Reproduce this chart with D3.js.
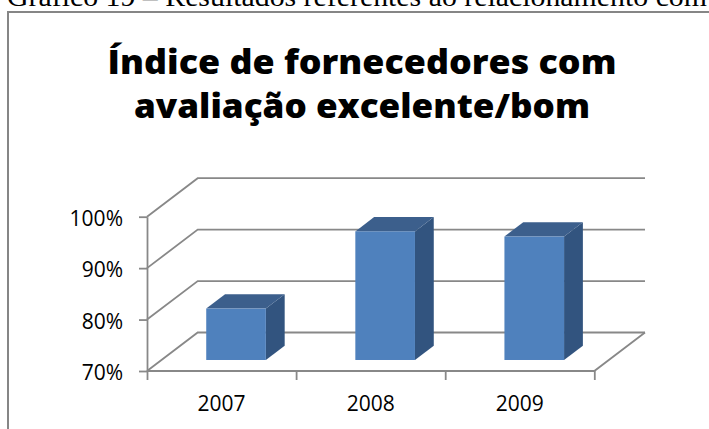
<!DOCTYPE html>
<html>
<head>
<meta charset="utf-8">
<script src="https://cdn.jsdelivr.net/npm/d3@7"></script>
<style>
  body { margin: 0; background: #fff; }
  svg { display: block; }
</style>
</head>
<body>
<svg width="709" height="429"></svg>
<script>
(function () {
  "use strict";
  const years = ["2007", "2008", "2009"];
  const values = [0.80, 0.95, 0.94];
  const yTicks = [0.7, 0.8, 0.9, 1.0];
  const caption = "Gráfico 19 – Resultados referentes ao relacionamento com";
  const titleLines = ["Índice de fornecedores com", "avaliação excelente/bom"];

  const svg = d3.select("svg");
  const gridColor = "#888888";

  // oblique depth of the 3D box
  const depthX = 50.7;
  const depthY = -38.5;
  const zFront = 0.286;
  const zBack = 0.657;

  const xScale = d3
    .scaleBand()
    .domain(years)
    .range([147, 594.3])
    .paddingInner(0.6)
    .paddingOuter(0.3);

  const yScale = d3.scaleLinear().domain([0.7, 1.0]).range([371, 216.7]);

  const [x0, x1] = xScale.range();

  // caption cut at the top of the page (as in the source)
  svg
    .append("text")
    .attr("x", 7)
    .attr("y", 6)
    .attr("font-family", "Liberation Serif")
    .attr("font-size", 28)
    .attr("textLength", 700)
    .attr("lengthAdjust", "spacingAndGlyphs")
    .attr("fill", "#000")
    .text(caption);

  // chart frame
  svg
    .append("path")
    .attr("d", "M8,440 L8,12 L720,12")
    .attr("fill", "none")
    .attr("stroke", "#868686")
    .attr("stroke-width", 2);

  const titleLens = [509, 456];
  svg
    .selectAll(".title")
    .data(titleLines)
    .join("text")
    .attr("class", "title")
    .attr("x", 362)
    .attr("y", (d, i) => 74.3 + i * 43.4)
    .attr("text-anchor", "middle")
    .attr("font-family", "Open Sans")
    .attr("font-weight", 800)
    .attr("font-size", 33)
    .attr("textLength", (d, i) => titleLens[i])
    .attr("lengthAdjust", "spacingAndGlyphs")
    .text((d) => d);

  const g = svg.append("g");

  // back wall + side wall gridlines
  g.selectAll(".grid")
    .data(yTicks)
    .join("path")
    .attr("class", "grid")
    .attr("fill", "none")
    .attr("stroke", gridColor)
    .attr("stroke-width", 1.8)
    .attr("d", (t) => {
      const y = yScale(t);
      return `M${x0},${y} L${x0 + depthX},${y + depthY} L${x1 + depthX},${y + depthY}`;
    });

  // floor front edge
  const yb = yScale(0.7);
  g.append("path")
    .attr("fill", "none")
    .attr("stroke", gridColor)
    .attr("stroke-width", 1.8)
    .attr("d", `M${x0},${yb} L${x1},${yb} L${x1 + depthX},${yb + depthY}`);

  // y axis at the front
  const yAxis = d3
    .axisLeft(yScale)
    .tickValues(yTicks)
    .tickFormat(d3.format(".0%"))
    .tickSize(8)
    .tickSizeOuter(0)
    .tickPadding(16);
  const yAxisG = g.append("g").attr("transform", `translate(${x0},0)`).call(yAxis);
  yAxisG.selectAll("path, line").attr("stroke", gridColor).attr("stroke-width", 1.8);
  yAxisG
    .selectAll("text")
    .attr("font-family", "Open Sans")
    .attr("font-size", 21)
    .attr("fill", "#000")
    .attr("dy", "0.42em");

  // x axis ticks at category boundaries
  const bounds = d3.scalePoint().domain(d3.range(years.length + 1)).range([x0, x1]);
  const xAxis = d3.axisBottom(bounds).tickSize(9).tickSizeOuter(0).tickFormat("");
  const xAxisG = g.append("g").attr("transform", `translate(0,${yb})`).call(xAxis);
  xAxisG.select(".domain").remove();
  xAxisG.selectAll("line").attr("stroke", gridColor).attr("stroke-width", 1.8);

  g.selectAll(".xlabel")
    .data(years)
    .join("text")
    .attr("class", "xlabel")
    .attr("x", (d) => xScale(d) + xScale.bandwidth() / 2)
    .attr("y", 410.5)
    .attr("text-anchor", "middle")
    .attr("font-family", "Open Sans")
    .attr("font-size", 21)
    .attr("fill", "#000")
    .text((d) => d);

  // bars
  const bw = xScale.bandwidth();
  const ddx = (zBack - zFront) * depthX;
  const ddy = (zBack - zFront) * depthY;
  const bars = g
    .selectAll(".bar")
    .data(years.map((y, i) => ({ year: y, value: values[i] })))
    .join("g")
    .attr("class", "bar");

  const face = (d) => {
    const left = xScale(d.year) + zFront * depthX;
    const right = left + bw;
    const top = yScale(d.value) + zFront * depthY;
    const bottom = yScale(0.7) + zFront * depthY;
    return { left, right, top, bottom };
  };

  bars
    .append("polygon")
    .attr("fill", "#32547f")
    .attr("points", (d) => {
      const f = face(d);
      return [
        [f.right, f.top],
        [f.right + ddx, f.top + ddy],
        [f.right + ddx, f.bottom + ddy],
        [f.right, f.bottom]
      ].join(" ");
    });

  bars
    .append("polygon")
    .attr("fill", "#3c5f8c")
    .attr("points", (d) => {
      const f = face(d);
      return [
        [f.left, f.top],
        [f.right, f.top],
        [f.right + ddx, f.top + ddy],
        [f.left + ddx, f.top + ddy]
      ].join(" ");
    });

  bars
    .append("rect")
    .attr("fill", "#4f81bd")
    .attr("x", (d) => face(d).left)
    .attr("y", (d) => face(d).top)
    .attr("width", bw)
    .attr("height", (d) => face(d).bottom - face(d).top);
})();
</script>
</body>
</html>
